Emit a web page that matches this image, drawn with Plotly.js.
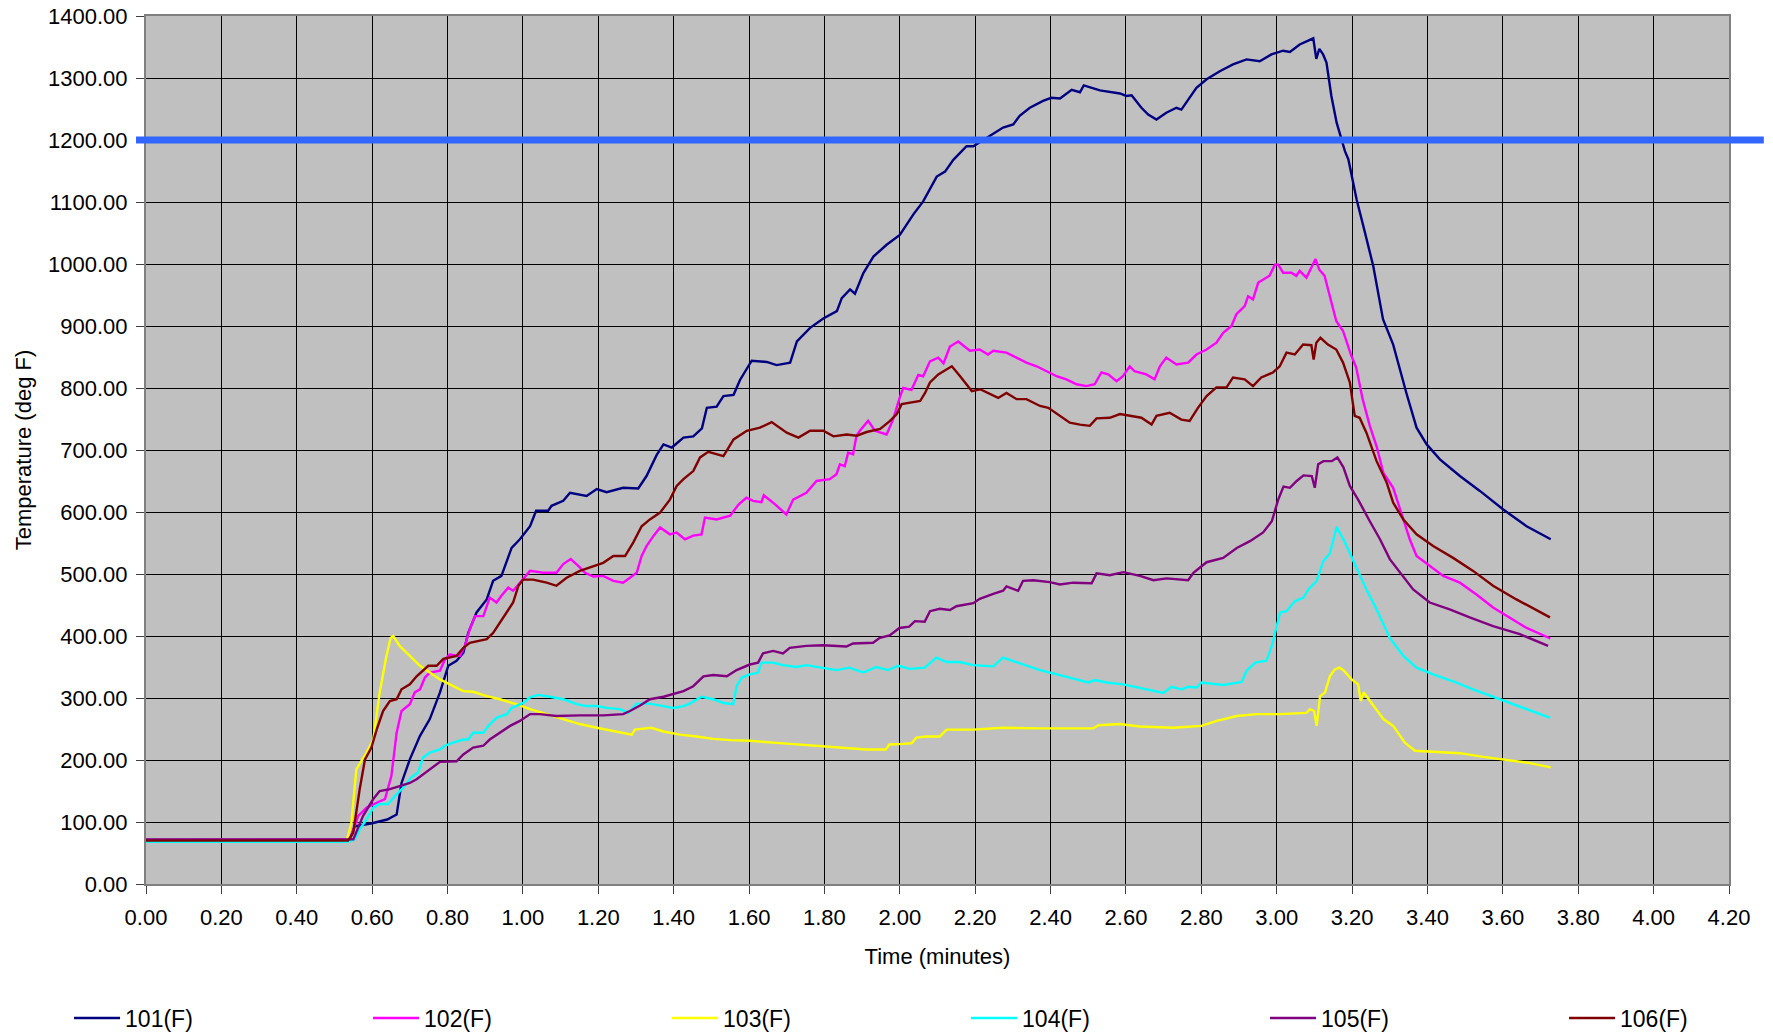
<!DOCTYPE html>
<html>
<head>
<meta charset="utf-8">
<script src="https://cdn.plot.ly/plotly-3.0.1.min.js"></script>
<style>html,body{margin:0;padding:0;background:#fff;}#chart{width:1773px;height:1034px;}</style>
</head>
<body>
<div id="chart"></div>
<script>
// Data: [time (minutes), temperature (deg F)]
const s101 = [[0,70],[0.53,70],[0.541,72],[0.554,93],[0.6,98],[0.64,104],[0.665,112],[0.678,163],[0.70,201],[0.727,239],[0.753,266],[0.78,309],[0.802,352],[0.824,360],[0.842,373],[0.855,405],[0.877,438],[0.904,459],[0.921,489],[0.943,497],[0.97,542],[0.992,556],[1.019,577],[1.035,602],[1.067,602],[1.076,610],[1.107,618],[1.125,631],[1.169,626],[1.196,637],[1.222,632],[1.266,639],[1.306,638],[1.328,658],[1.355,692],[1.373,709],[1.395,704],[1.426,720],[1.452,722],[1.475,735],[1.488,768],[1.514,770],[1.532,787],[1.559,789],[1.576,813],[1.594,832],[1.607,844],[1.647,842],[1.673,837],[1.709,841],[1.727,875],[1.762,897],[1.797,912],[1.833,924],[1.846,945],[1.868,959],[1.881,952],[1.903,985],[1.93,1012],[1.965,1031],[2.0,1047],[2.036,1080],[2.062,1101],[2.098,1141],[2.12,1149],[2.142,1168],[2.177,1190],[2.195,1190],[2.239,1206],[2.274,1220],[2.301,1225],[2.318,1239],[2.345,1252],[2.38,1263],[2.402,1268],[2.425,1267],[2.456,1281],[2.478,1277],[2.488,1288],[2.531,1280],[2.584,1275],[2.601,1271],[2.615,1272],[2.641,1252],[2.659,1241],[2.681,1233],[2.707,1244],[2.734,1252],[2.747,1249],[2.769,1268],[2.787,1284],[2.814,1298],[2.849,1311],[2.884,1322],[2.92,1330],[2.955,1327],[2.986,1338],[3.017,1344],[3.035,1342],[3.061,1354],[3.083,1360],[3.097,1364],[3.105,1331],[3.113,1347],[3.123,1338],[3.132,1325],[3.145,1271],[3.159,1228],[3.172,1201],[3.181,1182],[3.19,1169],[3.212,1104],[3.234,1051],[3.256,997],[3.282,911],[3.309,870],[3.344,792],[3.371,736],[3.398,709],[3.433,685],[3.486,658],[3.539,634],[3.601,604],[3.663,577],[3.727,556]];

const s102 = [[0,71],[0.53,71],[0.541,72],[0.563,110],[0.585,123],[0.612,131],[0.634,137],[0.651,174],[0.665,244],[0.678,279],[0.70,290],[0.713,309],[0.727,314],[0.74,333],[0.753,341],[0.78,344],[0.793,362],[0.806,370],[0.833,368],[0.846,384],[0.859,411],[0.873,432],[0.895,432],[0.912,462],[0.93,454],[0.943,465],[0.961,478],[0.974,473],[0.996,489],[1.019,505],[1.054,502],[1.089,502],[1.107,516],[1.127,524],[1.147,513],[1.165,502],[1.187,496],[1.213,497],[1.24,489],[1.266,486],[1.284,494],[1.302,502],[1.315,529],[1.328,545],[1.346,561],[1.364,575],[1.39,564],[1.408,567],[1.43,556],[1.452,562],[1.474,564],[1.483,591],[1.514,588],[1.55,594],[1.572,612],[1.593,623],[1.611,618],[1.633,616],[1.639,627],[1.664,615],[1.699,596],[1.717,620],[1.752,631],[1.779,650],[1.814,653],[1.832,661],[1.841,677],[1.854,674],[1.863,696],[1.876,693],[1.885,723],[1.894,731],[1.916,747],[1.934,731],[1.965,725],[1.982,749],[2.0,785],[2.009,800],[2.031,797],[2.049,821],[2.062,819],[2.08,843],[2.102,849],[2.116,840],[2.133,867],[2.155,875],[2.186,860],[2.212,862],[2.234,854],[2.248,860],[2.283,857],[2.31,849],[2.336,841],[2.363,835],[2.389,827],[2.416,819],[2.442,814],[2.469,806],[2.495,803],[2.517,806],[2.535,825],[2.553,822],[2.575,811],[2.592,819],[2.61,835],[2.623,827],[2.654,822],[2.676,814],[2.69,835],[2.707,849],[2.734,838],[2.765,841],[2.787,854],[2.814,862],[2.84,873],[2.858,889],[2.88,900],[2.893,919],[2.915,932],[2.924,948],[2.937,943],[2.951,970],[2.959,973],[2.981,981],[2.995,999],[3.004,999],[3.017,986],[3.039,986],[3.052,981],[3.061,989],[3.079,978],[3.092,994],[3.103,1008],[3.113,991],[3.127,981],[3.141,948],[3.158,908],[3.176,892],[3.198,852],[3.211,833],[3.228,782],[3.247,739],[3.265,706],[3.283,663],[3.309,639],[3.336,588],[3.353,556],[3.371,529],[3.406,513],[3.442,497],[3.486,486],[3.53,467],[3.574,446],[3.619,430],[3.663,413],[3.726,396]];

const s103 = [[0,68],[0.532,68],[0.545,99],[0.558,185],[0.572,199],[0.585,212],[0.603,233],[0.62,309],[0.638,368],[0.649,397],[0.656,400],[0.673,384],[0.70,368],[0.727,352],[0.753,341],[0.78,330],[0.806,322],[0.842,311],[0.868,310],[0.904,303],[0.939,298],[0.983,290],[1.019,282],[1.063,274],[1.107,267],[1.151,258],[1.196,252],[1.24,247],[1.289,241],[1.297,249],[1.341,252],[1.373,246],[1.417,241],[1.461,238],[1.505,234],[1.55,232],[1.603,231],[1.664,228],[1.752,224],[1.841,220],[1.911,217],[1.963,217],[1.972,225],[2.009,226],[2.031,227],[2.044,236],[2.071,238],[2.106,238],[2.124,249],[2.195,249],[2.274,252],[2.372,251],[2.46,251],[2.513,251],[2.527,256],[2.584,258],[2.637,254],[2.726,252],[2.8,255],[2.841,263],[2.894,271],[2.947,274],[3.009,274],[3.079,276],[3.088,282],[3.099,279],[3.106,255],[3.115,303],[3.128,309],[3.141,335],[3.154,346],[3.166,349],[3.177,345],[3.199,330],[3.216,322],[3.223,295],[3.231,309],[3.252,292],[3.283,266],[3.309,255],[3.34,228],[3.367,215],[3.433,213],[3.486,211],[3.548,205],[3.61,200],[3.672,195],[3.727,188]];

const s104 = [[0,68],[0.536,68],[0.554,72],[0.567,88],[0.585,104],[0.603,123],[0.62,129],[0.642,129],[0.665,145],[0.682,155],[0.704,172],[0.722,180],[0.735,204],[0.753,212],[0.78,217],[0.793,223],[0.815,228],[0.842,233],[0.855,233],[0.868,244],[0.895,244],[0.908,255],[0.93,268],[0.957,274],[0.97,284],[1.001,292],[1.019,301],[1.041,305],[1.072,302],[1.107,298],[1.143,290],[1.169,287],[1.196,287],[1.222,284],[1.258,282],[1.28,276],[1.302,291],[1.337,291],[1.373,287],[1.399,284],[1.426,287],[1.443,291],[1.474,302],[1.505,298],[1.532,292],[1.558,290],[1.567,319],[1.581,333],[1.602,338],[1.624,341],[1.633,357],[1.664,357],[1.69,353],[1.726,350],[1.752,353],[1.788,349],[1.832,345],[1.867,349],[1.903,341],[1.938,350],[1.969,345],[1.996,352],[2.027,347],[2.066,349],[2.08,356],[2.097,365],[2.124,358],[2.159,358],[2.195,353],[2.248,351],[2.274,365],[2.327,354],[2.372,345],[2.425,337],[2.469,330],[2.5,325],[2.518,329],[2.549,325],[2.593,322],[2.637,316],[2.699,308],[2.721,318],[2.748,314],[2.765,318],[2.788,317],[2.8,325],[2.858,321],[2.907,326],[2.92,344],[2.943,357],[2.973,360],[2.987,384],[3.009,438],[3.026,440],[3.048,456],[3.071,462],[3.084,475],[3.106,489],[3.124,521],[3.141,533],[3.159,576],[3.181,551],[3.203,521],[3.238,475],[3.265,443],[3.3,397],[3.336,368],[3.371,349],[3.415,338],[3.468,327],[3.521,314],[3.592,298],[3.663,282],[3.726,268]];

const s105 = [[0,72],[0.55,72],[0.576,110],[0.603,137],[0.62,150],[0.647,153],[0.673,158],[0.70,163],[0.718,169],[0.735,177],[0.753,185],[0.78,197],[0.824,198],[0.842,209],[0.868,220],[0.895,223],[0.912,233],[0.939,244],[0.966,255],[0.992,263],[1.019,274],[1.045,274],[1.089,271],[1.151,272],[1.213,272],[1.266,274],[1.284,279],[1.311,288],[1.337,298],[1.373,302],[1.399,306],[1.426,311],[1.452,319],[1.479,335],[1.505,337],[1.541,335],[1.567,345],[1.602,354],[1.624,357],[1.637,372],[1.664,376],[1.69,372],[1.708,381],[1.752,384],[1.796,385],[1.832,384],[1.858,383],[1.876,388],[1.929,389],[1.947,397],[1.973,401],[1.999,413],[2.025,415],[2.04,424],[2.066,423],[2.08,440],[2.106,444],[2.133,442],[2.15,448],[2.195,453],[2.212,460],[2.248,468],[2.274,473],[2.283,480],[2.314,473],[2.327,489],[2.354,490],[2.398,487],[2.425,483],[2.46,486],[2.509,485],[2.522,501],[2.557,498],[2.593,503],[2.637,497],[2.673,490],[2.708,493],[2.765,490],[2.779,502],[2.814,519],[2.858,526],[2.894,542],[2.929,553],[2.964,567],[2.987,585],[3.004,620],[3.018,641],[3.035,639],[3.053,650],[3.071,659],[3.093,658],[3.101,639],[3.11,677],[3.124,682],[3.146,682],[3.161,688],[3.177,672],[3.194,642],[3.216,620],[3.247,585],[3.274,556],[3.3,524],[3.327,502],[3.362,475],[3.406,454],[3.459,443],[3.512,430],[3.574,416],[3.645,403],[3.72,384]];

const s106 = [[0,70],[0.536,70],[0.55,83],[0.567,153],[0.581,201],[0.598,220],[0.612,249],[0.629,279],[0.647,295],[0.665,298],[0.678,314],[0.70,322],[0.718,335],[0.749,352],[0.771,352],[0.789,363],[0.824,368],[0.842,381],[0.859,389],[0.886,392],[0.904,395],[0.921,405],[0.939,422],[0.957,438],[0.974,454],[0.988,481],[1.001,491],[1.027,491],[1.063,486],[1.089,481],[1.116,494],[1.151,505],[1.187,513],[1.213,518],[1.24,529],[1.271,529],[1.293,551],[1.315,577],[1.337,588],[1.364,599],[1.39,620],[1.408,642],[1.426,653],[1.452,666],[1.47,688],[1.492,697],[1.532,690],[1.559,717],[1.594,731],[1.629,736],[1.66,745],[1.7,728],[1.731,720],[1.762,731],[1.797,731],[1.824,722],[1.859,725],[1.886,723],[1.912,729],[1.948,734],[1.974,747],[1.992,758],[2.005,774],[2.027,776],[2.054,779],[2.067,792],[2.08,809],[2.102,822],[2.116,827],[2.138,835],[2.16,819],[2.191,795],[2.213,798],[2.239,790],[2.261,784],[2.283,792],[2.31,782],[2.336,782],[2.372,771],[2.394,768],[2.425,755],[2.451,744],[2.478,741],[2.504,739],[2.522,751],[2.557,752],[2.584,758],[2.61,755],[2.641,752],[2.668,741],[2.681,755],[2.716,760],[2.747,749],[2.769,747],[2.791,768],[2.814,787],[2.84,801],[2.867,801],[2.884,817],[2.915,814],[2.937,803],[2.959,817],[2.99,825],[3.008,835],[3.026,857],[3.048,854],[3.07,870],[3.092,869],[3.098,846],[3.105,873],[3.116,881],[3.136,870],[3.158,862],[3.176,841],[3.194,809],[3.207,755],[3.22,752],[3.238,728],[3.265,682],[3.292,647],[3.309,615],[3.336,588],[3.371,564],[3.415,545],[3.468,526],[3.521,505],[3.574,481],[3.636,459],[3.725,430]];

const seriesNames = ['101(F)', '102(F)', '103(F)', '104(F)', '105(F)', '106(F)'];
const seriesData = [s101, s102, s103, s104, s105, s106];
const seriesColors = ['#000080', '#FF00FF', '#FFFF00', '#00FFFF', '#800080', '#800000'];
const threshold = 1200;

const legendIds = ['legend', 'legend2', 'legend3', 'legend4', 'legend5', 'legend6'];

const traces = seriesData.map((s, i) => ({
  type: 'scatter',
  mode: 'lines',
  name: seriesNames[i],
  x: s.map(p => p[0]),
  y: s.map(p => p[1]),
  line: {color: seriesColors[i], width: 2.4},
  legend: legendIds[i],
  hoverinfo: 'x+y+name'
}));

const font = {family: '"Liberation Sans", Arial, sans-serif', size: 22, color: '#000000'};

const layout = {
  width: 1773,
  height: 1034,
  margin: {l: 146, r: 44, t: 16, b: 150, autoexpand: false},
  paper_bgcolor: '#FFFFFF',
  plot_bgcolor: '#C0C0C0',
  font: font,
  showlegend: true,
  xaxis: {
    range: [0, 4.2],
    tick0: 0,
    dtick: 0.2,
    tickformat: '.2f',
    showgrid: true,
    gridcolor: '#000000',
    gridwidth: 1,
    zeroline: false,
    ticks: 'outside',
    ticklen: 8,
    tickwidth: 1,
    tickcolor: '#404040',
    ticklabelstandoff: 5,
    showline: true,
    linecolor: '#808080',
    linewidth: 2,
    mirror: true,
    tickfont: {size: 22},
    title: {text: 'Time (minutes)', font: {size: 22}, standoff: 19}
  },
  yaxis: {
    range: [0, 1400],
    tick0: 0,
    dtick: 100,
    tickformat: '.2f',
    showgrid: true,
    gridcolor: '#000000',
    gridwidth: 1,
    zeroline: false,
    ticks: 'outside',
    ticklen: 8,
    tickwidth: 1,
    tickcolor: '#404040',
    ticklabelstandoff: 4,
    showline: true,
    linecolor: '#808080',
    linewidth: 2,
    mirror: true,
    tickfont: {size: 22},
    title: {text: 'Temperature (deg F)', font: {size: 22}, standoff: 10}
  },
  shapes: [{
    type: 'line',
    xref: 'paper',
    yref: 'y',
    x0: -0.0063,
    x1: 1.022,
    y0: threshold,
    y1: threshold,
    line: {color: '#3366FF', width: 7},
    layer: 'above'
  }]
};

const legendStart = -0.0385 - 16 / 1583;
const legendStep = 0.18888;
legendIds.forEach((id, i) => {
  layout[id] = {
    x: legendStart + i * legendStep,
    y: -0.1544,
    xanchor: 'left',
    yanchor: 'middle',
    orientation: 'h',
    itemwidth: 46,
    bgcolor: 'rgba(0,0,0,0)',
    borderwidth: 0,
    font: {size: 23, family: font.family, color: '#000000'}
  };
});

Plotly.newPlot('chart', traces, layout, {displayModeBar: false, staticPlot: true});
</script>
</body>
</html>
